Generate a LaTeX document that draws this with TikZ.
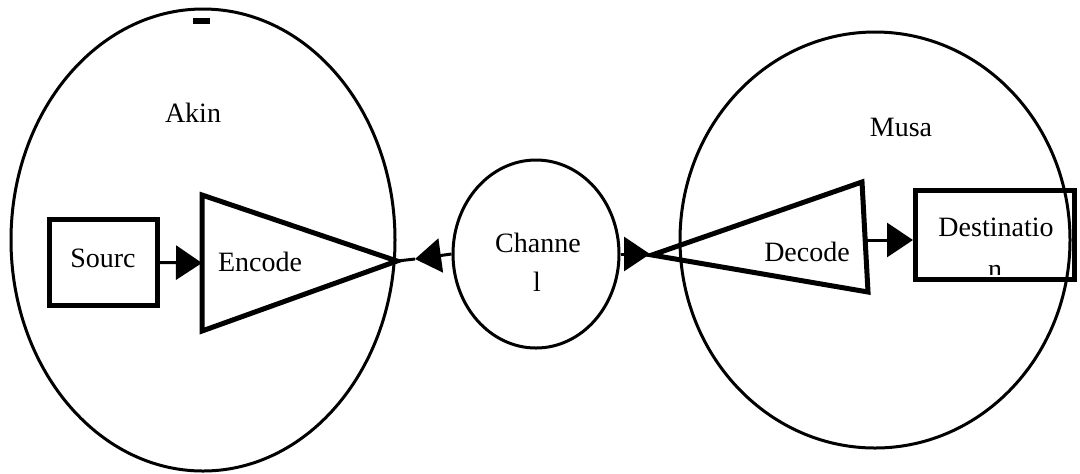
\documentclass[tikz,border=0pt]{standalone}
\usepackage{fontspec}
\setmainfont{Liberation Serif}
\usetikzlibrary{arrows.meta,shapes.geometric}
\begin{document}
\begin{tikzpicture}[x=0.5pt,y=-0.5pt,
 person/.style={draw,ellipse,line width=1.5pt,inner sep=0pt},
 box/.style={draw,line width=2.5pt,inner sep=0pt},
 tri/.style={draw,line width=2.5pt,line join=miter},
 lbl/.style={font=\fontsize{14}{16}\selectfont,inner sep=0pt},
 arr/.style={line width=1.5pt,-{Triangle[length=13pt,width=17pt]}},
 link/.style={line width=1.5pt}
]
\useasboundingbox (0,0) rectangle (1080,473);
% people
\node[person,minimum width=192pt,minimum height=231pt] (akin) at (203,240) {};
\node[person,minimum width=195pt,minimum height=208pt] (musa) at (875,240) {};
\node[person,minimum width=83pt,minimum height=94pt] (chan) at (536,254) {};
\fill (193,18) rectangle (210,24);
% labels of people
\node[lbl] (akinl) at (193,113) {Akin};
\node[lbl] (musal) at (901,127) {Musa};
\node[lbl] (chanl1) at (538,243) {Channe};
\node[lbl] (chanl2) at (537,282) {l};
% source
\node[box,minimum width=54pt,minimum height=43pt] (src) at (103.5,262.5) {};
\node[lbl] (srcl) at (103,258) {Sourc};
% encode triangle
\coordinate (encT) at (202,195);
\coordinate (encB) at (202,331);
\coordinate (encA) at (397,261);
\coordinate (encL) at (202,263);
\draw[tri] (encT) -- (encA) -- (encB) -- cycle;
\node[lbl] (encl) at (260,262) {Encode};
% decode triangle
\coordinate (decA) at (652,255);
\coordinate (decT) at (862,182);
\coordinate (decB) at (868,292);
\coordinate (decR) at (865,240);
\draw[tri] (decA) -- (decT) -- (decB) -- cycle;
\node[lbl] (decl) at (807,252) {Decode};
% destination
\node[box,minimum width=79.5pt,minimum height=44.5pt] (dest) at (995,235) {};
\node[lbl] (destl) at (996,227) {Destinatio};
\begin{scope}
\clip (913,250) rectangle (1077,274);
\node[lbl] (destl2) at (995,272) {n};
\end{scope}
% connectors
\draw[arr] (src.east) -- (encL);
\coordinate (tipL) at (415,259);
\draw[arr] (chan.west) -- (tipL);
\draw[link] (tipL) -- (encA);
\coordinate (tipR) at (650,254);
\draw[arr] (chan.east) -- (tipR);
\draw[arr] (decR) -- (decR -| dest.west);
\end{tikzpicture}
\end{document}
